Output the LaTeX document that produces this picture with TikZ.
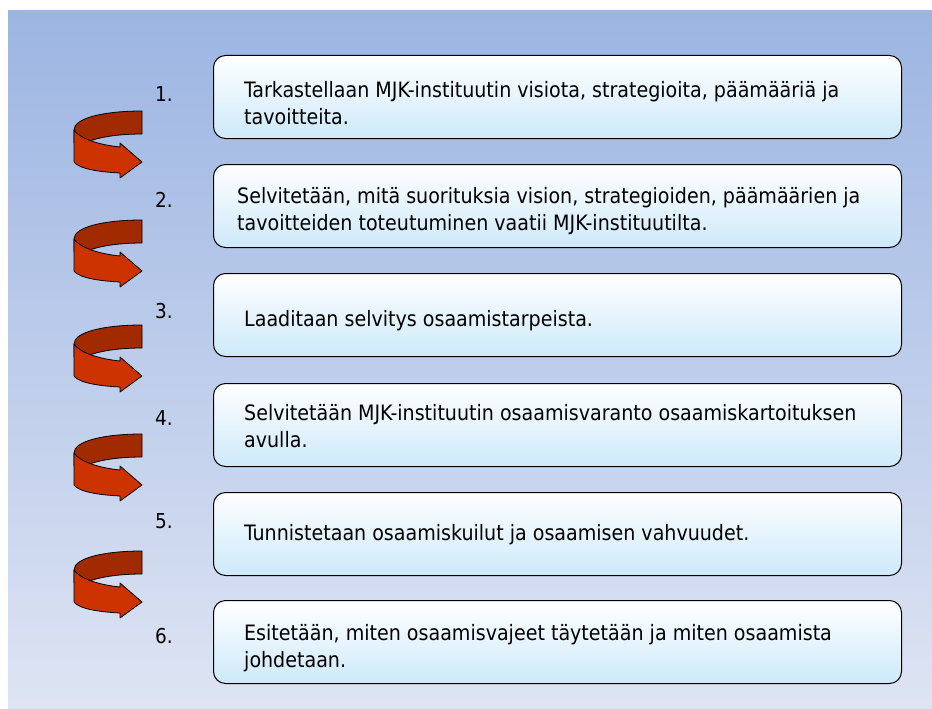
\documentclass[tikz,border=0pt]{standalone}
\usepackage{fontspec}
\setmainfont{DejaVu Sans Condensed}
\definecolor{bgtop}{HTML}{9CB5E2}
\definecolor{bgbot}{HTML}{DEE4F3}
\definecolor{boxbot}{HTML}{CDE9FA}
\definecolor{bandback}{HTML}{A12A00}
\definecolor{bandfront}{HTML}{CC3300}
\tikzset{
  stepbox/.style={draw=black, line width=1pt, rounded corners=12pt, top color=white, bottom color=boxbot,
    minimum width=688pt, minimum height=83pt, inner sep=0pt, anchor=north west},
  steptext/.style={anchor=base west, inner sep=0pt, font=\fontsize{21.2}{25}\selectfont, text=black},
  numtext/.style={anchor=base west, inner sep=0pt, font=\fontsize{20.5}{24}\selectfont, text=black},
  bandedge/.style={draw=black, line width=0.8pt, line join=round}
}
\newcommand\turnarrow[1]{%
  \begin{scope}[shift={(0,#1)}]
    \filldraw[bandedge, fill=bandback] (142,0) -- (142,23) .. controls (115,23) and (95,27) .. (85,32) -- (74,32) -- (74,19) .. controls (74,7) and (104,0) .. (142,0) -- cycle;
    \filldraw[bandedge, fill=bandfront] (74,19) .. controls (80,28) and (100,34) .. (120,36) -- (120,32) -- (142,51) -- (120,67) -- (120,62) .. controls (100,61) and (79,58) .. (74,51) -- cycle;
  \end{scope}}
\begin{document}
\begin{tikzpicture}[x=1pt,y=-1pt]
\useasboundingbox (0,0) rectangle (932,709);
\shade[top color=bgtop, bottom color=bgbot] (8,11) rectangle (932,709);

\node[stepbox] (b1) at (213,55) {};
\node[stepbox] (b2) at (213,164) {};
\node[stepbox] (b3) at (213,273) {};
\node[stepbox] (b4) at (213,383) {};
\node[stepbox] (b5) at (213,492) {};
\node[stepbox] (b6) at (213,600) {};

\node[numtext] (n1) at (155,102) {1.};
\node[numtext] (n2) at (155,207) {2.};
\node[numtext] (n3) at (155,318) {3.};
\node[numtext] (n4) at (155,425) {4.};
\node[numtext] (n5) at (155,528) {5.};
\node[numtext] (n6) at (155,643) {6.};

\node[steptext] (t1a) at (244,97) {Tarkastellaan MJK-instituutin visiota, strategioita, päämääriä ja};
\node[steptext] (t1b) at (244,124) {tavoitteita.};
\node[steptext] (t2a) at (237,203) {Selvitetään, mitä suorituksia vision, strategioiden, päämäärien ja};
\node[steptext] (t2b) at (237,230) {tavoitteiden toteutuminen vaatii MJK-instituutilta.};
\node[steptext] (t3a) at (244,326) {Laaditaan selvitys osaamistarpeista.};
\node[steptext] (t4a) at (244,420) {Selvitetään MJK-instituutin osaamisvaranto osaamiskartoituksen};
\node[steptext] (t4b) at (244,447) {avulla.};
\node[steptext] (t5a) at (244,540) {Tunnistetaan osaamiskuilut ja osaamisen vahvuudet.};
\node[steptext] (t6a) at (244,640) {Esitetään, miten osaamisvajeet täytetään ja miten osaamista};
\node[steptext] (t6b) at (244,667) {johdetaan.};

\turnarrow{111}
\turnarrow{220}
\turnarrow{325}
\turnarrow{434}
\turnarrow{551}
\end{tikzpicture}
\end{document}
